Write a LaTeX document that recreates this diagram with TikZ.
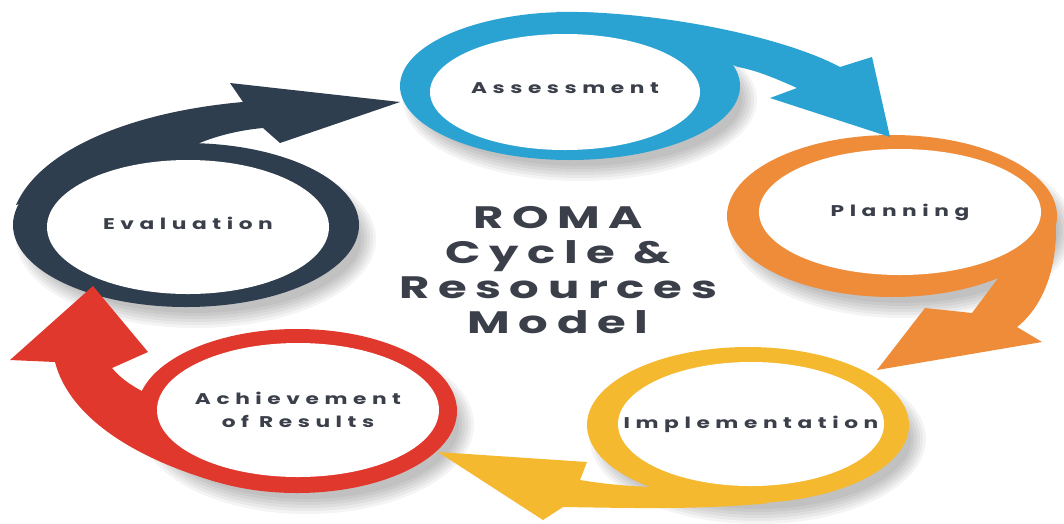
\documentclass[tikz,border=0pt]{standalone}
\usepackage{fontspec}
\setmainfont{Poppins}
\newfontfamily\stagefont{Poppins}[FakeStretch=1.4, LetterSpace=36]
\newfontfamily\titlefont{Poppins}[FakeStretch=1.5, LetterSpace=28]
\usetikzlibrary{shapes.geometric}
\definecolor{romablue}{HTML}{2AA3D3}
\definecolor{romaorange}{HTML}{EE8C3A}
\definecolor{romayellow}{HTML}{F4B92E}
\definecolor{romared}{HTML}{E0382C}
\definecolor{romanavy}{HTML}{2F3E4E}
\definecolor{romatext}{HTML}{3B3F4A}
\tikzset{
	stage/.style={ellipse, fill=white, inner sep=0pt},
	stagetext/.style={align=center, text=romatext, inner sep=0pt,
		font=\stagefont\fontsize{15.5}{23}\selectfont\bfseries},
	title/.style={align=center, text=romatext,
		font=\titlefont\fontsize{31}{35}\selectfont\bfseries},
	haze/.style={fill=black, opacity=0.045}
}
\begin{document}
\begin{tikzpicture}[x=1pt, y=-1pt]
		\fill[white] (0,0) rectangle (1064,523);
		\useasboundingbox (0,0) rectangle (1064,523);
		% soft shadows
		\foreach \cx/\cy/\rx/\ry in {186/225/173/82, 297/411/160/82, 748/425/161/78, 892/216/165/81, 570/86/170/74}
			\foreach \k in {0,...,5}
				\fill[haze] (\cx+10,\cy+14) ellipse [x radius=\rx-8+3*\k, y radius=\ry-8+3*\k];

		% evaluation
		\fill[romanavy] (186,225) ellipse [x radius=173, y radius=82];
		\fill[romanavy] (16,205) .. controls (40,150) and (130,112) .. (243,102) -- (230,83) -- (400,102)
			-- (280,143) -- (263,128) .. controls (240,130) and (215,136) .. (195,145) -- cycle;
		\node[stage, minimum width=282, minimum height=134,
			label={[stagetext, yshift=4pt]center:Evaluation}] (eval) at (188,227) {};

		% achievement of results
		\fill[romared] (297,411) ellipse [x radius=160, y radius=82];
		\fill[romared] (217,482) .. controls (140,460) and (70,420) .. (55,362) -- (10,360) -- (93,286)
			-- (148,352) -- (112,368) .. controls (122,380) and (135,388) .. (150,395) -- cycle;
		\node[stage, minimum width=282, minimum height=134,
			label={[stagetext]center:Achievement\\of Results}] (achieve) at (298,410) {};

		% implementation
		\fill[romayellow] (748,425) ellipse [x radius=161, y radius=78];
		\fill[romayellow] (770,503) .. controls (700,510) and (630,508) .. (563,507) -- (543,520) -- (438,452)
			-- (587,462) -- (580,480) .. controls (610,485) and (640,487) .. (660,487) -- cycle;
		\node[stage, minimum width=266, minimum height=124,
			label={[stagetext]center:Implementation}] (impl) at (751,424) {};

		% planning
		\fill[romaorange] (892,216) ellipse [x radius=165, y radius=81];
		\fill[romaorange] (1054,202) .. controls (1062,260) and (1045,305) .. (1017,327) -- (1042,342) -- (877,370)
			-- (925,308) -- (972,313) -- (993,285) -- cycle;
		\node[stage, minimum width=282, minimum height=126,
			label={[stagetext]center:Planning}] (plan) at (900,212) {};

		% assessment
		\fill[romablue] (570,86) ellipse [x radius=170, y radius=74];
		\fill[romablue] (556,12) .. controls (650,10) and (780,35) .. (840,67) -- (872,57) -- (890,137)
			-- (770,98) -- (797,88) .. controls (775,78) and (755,70) .. (738,67) -- (720,60) -- cycle;
		\node[stage, minimum width=270, minimum height=116,
			label={[stagetext, yshift=4pt]center:Assessment}] (assess) at (565,92) {};

		\node[title] (model) at (558,270) {ROMA\\Cycle \&\\Resources\\Model};
	\end{tikzpicture}
\end{document}
